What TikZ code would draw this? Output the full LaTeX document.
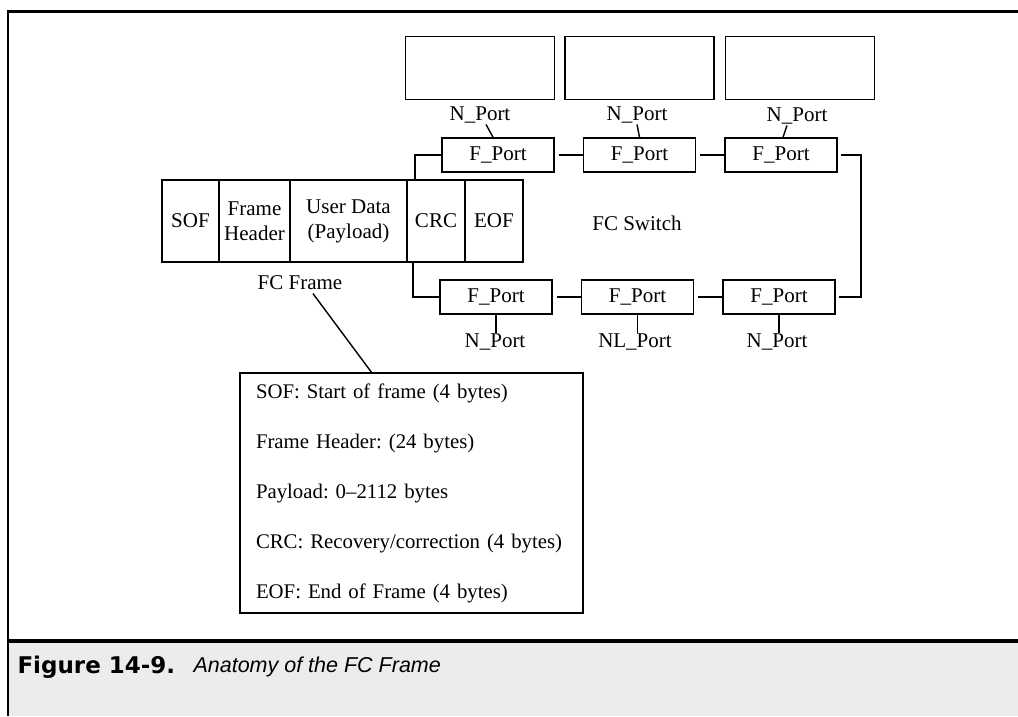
\documentclass[tikz,border=0pt]{standalone}
\usepackage{fontspec}
\setmainfont{Liberation Serif}
\newfontfamily\capfont{DejaVu Sans}
\newfontfamily\titlefont{Liberation Sans}
\usetikzlibrary{positioning}
\frenchspacing

\begin{document}
\begin{tikzpicture}[
    x=1pt, y=-1pt,
    font=\fontsize{21}{24}\selectfont,
    link/.style={line width=1.4pt},
    host/.style={rectangle, draw, line width=1.5pt, minimum width=149pt, minimum height=63pt},
    port/.style={rectangle, draw, line width=1.5pt, minimum width=112pt, minimum height=34pt, inner sep=0pt},
    cell/.style={rectangle, draw, line width=1.3pt, outer sep=0pt, minimum height=82pt, inner sep=0pt, align=center, font=\fontsize{21}{25}\selectfont},
    tag/.style={inner sep=1pt},
    legend/.style={rectangle, draw, line width=1.3pt, minimum width=343pt, minimum height=240pt, inner xsep=16pt, text width=311pt, align=left, font=\fontsize{20.8}{50}\selectfont}
]
    \useasboundingbox (0,0) rectangle (1018,716);

    % page frame and caption strip
    \fill[gray!15] (8,643) rectangle (1018,716);
    \draw[line width=3pt] (7,11) -- (1018,11);
    \draw[line width=2.5pt] (8,10) -- (8,716);
    \draw[line width=4pt] (7,641) -- (1018,641);

    % nodes on the switch
    \node [host] (hostA) at (480,68) {};
    \node [host, right=9pt of hostA] (hostB) {};
    \node [host, right=10pt of hostB] (hostC) {};
    \node [tag] (nA) at (480,115) {N\_Port};
    \node [tag] (nB) at (637,115) {N\_Port};
    \node [tag] (nC) at (797,116) {N\_Port};

    \node [port] (ftA) at (498,155) {F\_Port};
    \node [port, right=28pt of ftA] (ftB) {F\_Port};
    \node [port, right=28pt of ftB] (ftC) {F\_Port};
    \node [port] (fbA) at (496,297) {F\_Port};
    \node [port, right=28pt of fbA] (fbB) {F\_Port};
    \node [port, right=28pt of fbB] (fbC) {F\_Port};

    \node [tag] (mA) at (495,342) {N\_Port};
    \node [tag] (mB) at (635,342) {NL\_Port};
    \node [tag] (mC) at (777,342) {N\_Port};
    \node (switch) at (637,223) {FC Switch};

    % the frame
    \node [cell, minimum width=57pt] (sof) at (190.5,221) {SOF};
    \node [cell, minimum width=71pt, right=0pt of sof] (hdr) {Frame\\Header};
    \node [cell, minimum width=117pt, right=0pt of hdr] (data) {User Data\\(Payload)};
    \node [cell, minimum width=58pt, right=0pt of data] (crc) {CRC};
    \node [cell, minimum width=58pt, right=0pt of crc] (eof) {EOF};
    \node (fclabel) at (300,283) {FC Frame};

    \node [legend] (legend) at (411.5,493) {SOF: Start of frame (4 bytes)\\
        Frame Header: (24 bytes)\\
        Payload: 0--2112 bytes\\
        CRC: Recovery/correction (4 bytes)\\
        EOF: End of Frame (4 bytes)};

    % links
    \draw [link] ([xshift=6pt]nA.south) -- ([xshift=-5pt]ftA.north);
    \draw [link] (nB.south) -- (ftB.north);
    \draw [link] ([xshift=-10pt]nC.south) -- ([xshift=2pt]ftC.north);
    \draw [link] (fbA.south) -- (fbA.south |- mA.north);
    \draw [link] (fbB.south) -- (fbB.south |- mB.north);
    \draw [link] (fbC.south) -- (fbC.south |- mC.north);

    \draw [link, shorten <=4pt] (ftA) -- (ftB);
    \draw [link, shorten <=4pt] (ftB) -- (ftC);
    \draw [link, shorten <=4pt] (fbA) -- (fbB);
    \draw [link, shorten <=4pt] (fbB) -- (fbC);
    \coordinate (loop) at (861,225);
    \draw [link] ([xshift=3pt]ftC.east) -| (loop) |- ([xshift=3pt]fbC.east);

    \draw [link] ([xshift=-21pt]crc.north) |- (ftA.west);
    \draw [link] ([xshift=-23pt]crc.south) |- (fbA.west);
    \draw [link] ([xshift=13pt]fclabel.south) -- ([xshift=-40pt]legend.north);

    % caption
    \node [anchor=west, font=\capfont\bfseries\fontsize{23}{26}\selectfont] (fignum) at (14,667) {Figure 14-9.};
    \node [anchor=west, font=\titlefont\itshape\fontsize{21.5}{24}\selectfont] (figtitle) at (190,667) {Anatomy of the FC Frame};
\end{tikzpicture}
\end{document}
